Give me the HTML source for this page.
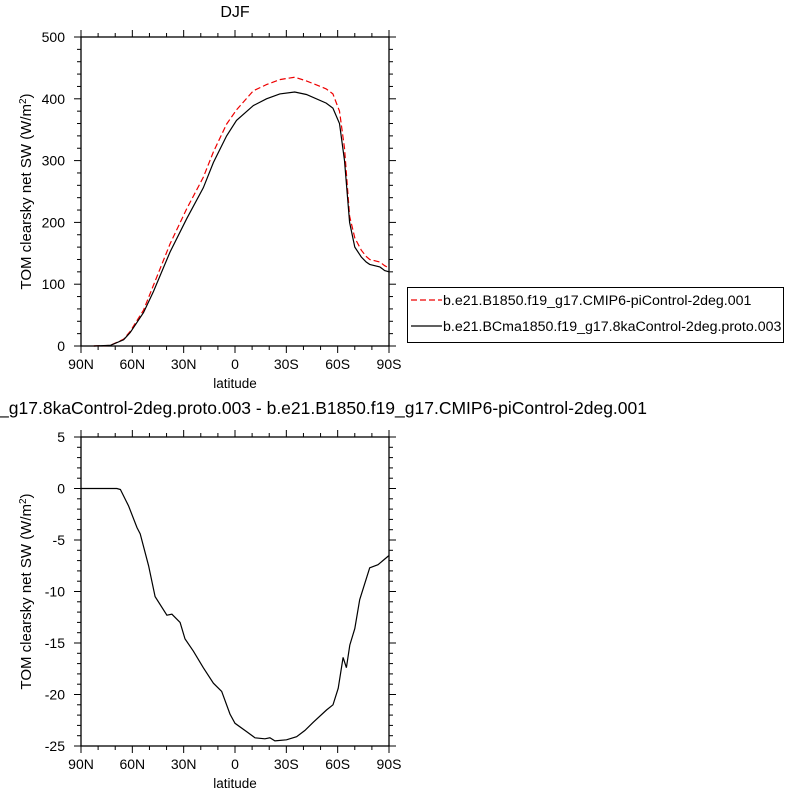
<!DOCTYPE html>
<html><head><meta charset="utf-8"><style>
body{margin:0;background:#fff}
svg{display:block;font-family:"Liberation Sans",sans-serif}
</style></head><body>
<svg id="c" width="800" height="800" viewBox="0 0 800 800">
<text x="235" y="17" font-size="16" text-anchor="middle">DJF</text>
<text x="647" y="414" font-size="17.5" text-anchor="end">e21.BCma1850.f19_g17.8kaControl-2deg.proto.003 - b.e21.B1850.f19_g17.CMIP6-piControl-2deg.001</text>
<g id="p1"></g>
<g id="p2"></g>
<g>
<rect x="407.5" y="287.5" width="376" height="55" fill="#fff" stroke="#000"/>
<g>
<line x1="411" y1="300" x2="442" y2="300" stroke="#e00" stroke-width="1.2" stroke-dasharray="6,3"/>
<text x="443" y="305" font-size="14.2">b.e21.B1850.f19_g17.CMIP6-piControl-2deg.001</text></g>
<g>
<line x1="411" y1="326" x2="442" y2="326" stroke="#000" stroke-width="1.2"/>
<text x="443" y="331" font-size="14.2">b.e21.BCma1850.f19_g17.8kaControl-2deg.proto.003</text></g>
</g>
</svg>
<script>
const lats = [82.6,72.9,65.1,61.2,53.5,47.7,38,28.2,18.5,12.6,4.9,-0.9,-10.7,-18.4,-26.2,-34.9,-41.7,-53.3,-57.2,-61.1,-64,-67,-70,-73.8,-76.7,-78.7,-84.6,-87.5,-90];
const seriesCtl = [0,1,10,22,54,88,152,206,256,297,340,365,389,400,408,411,407,393,385,360,300,200,160,144,136,132,128,122,120];
const seriesPi = [0,1,11,24,58,98,165,222,273,314,359,382,413,423,431,435,429,416,408,380,320,210,175,155,145,140,136,130,126];
const diffLats = [90,69,67,62.2,57.3,55.4,50.5,46.7,39.8,36.9,32.1,29.2,24.3,18.5,12.6,7.8,2.9,0,-6.8,-11.7,-17.5,-20.4,-23.3,-30.1,-36,-40.8,-45.7,-53.5,-57.3,-60.3,-63.2,-65.1,-67.1,-70,-72.9,-78.7,-83.6,-90];
const diffVals = [0,0,-0.1,-1.7,-3.8,-4.4,-7.5,-10.5,-12.3,-12.2,-13.0,-14.6,-15.8,-17.4,-18.9,-19.7,-21.9,-22.8,-23.6,-24.2,-24.3,-24.2,-24.5,-24.4,-24.1,-23.5,-22.7,-21.5,-21.0,-19.4,-16.4,-17.4,-15.2,-13.6,-10.8,-7.7,-7.4,-6.5];
const xTickVals = [90,60,30,0,-30,-60,-90];
const xTickLabels = ["90N","60N","30N","0","30S","60S","90S"];
const yTicks1 = [0,100,200,300,400,500];
const yTicks2 = [5,0,-5,-10,-15,-20,-25];

const NS="http://www.w3.org/2000/svg";
function mk(parent,tag,attrs){const e=document.createElementNS(NS,tag);for(const k in attrs)e.setAttribute(k,attrs[k]);parent.appendChild(e);return e;}
const L=81,R=389;
const xs=lat=>L+(90-lat)/180*(R-L);

function panel(g,top,bot,ymin,ymax,yTicks,minorStep){
  const ys=v=>bot-(v-ymin)/(ymax-ymin)*(bot-top);
  const frame=mk(g,'rect',{x:L,y:top,width:R-L,height:bot-top,fill:'none',stroke:'#000','stroke-width':1.3});
  
  
  for(let lat=90;lat>=-90;lat-=10){
    const x=xs(lat),maj=lat%30===0,len=maj?7:4;
    mk(g,'line',{x1:x,y1:bot,x2:x,y2:bot+len,stroke:'#000','stroke-width':1});
    mk(g,'line',{x1:x,y1:top,x2:x,y2:top-len,stroke:'#000','stroke-width':1});
  }
  xTickVals.forEach((v,i)=>{
    const t=mk(g,'text',{x:xs(v),y:bot+23,'font-size':14,'text-anchor':'middle'});
    t.textContent=xTickLabels[i];
    
    
  });
  for(let v=ymin;v<=ymax+1e-9;v+=minorStep){
    const y=ys(v),maj=yTicks.some(t=>Math.abs(t-v)<1e-6),len=maj?7:4;
    mk(g,'line',{x1:L,y1:y,x2:L-len,y2:y,stroke:'#000','stroke-width':1});
    mk(g,'line',{x1:R,y1:y,x2:R+len,y2:y,stroke:'#000','stroke-width':1});
  }
  yTicks.forEach(v=>{
    const t=mk(g,'text',{x:L-16,y:ys(v)+5,'font-size':14,'text-anchor':'end'});
    t.textContent=String(v);
    
    
  });
  const xl=mk(g,'text',{x:(L+R)/2,y:bot+42,'font-size':13.5,'text-anchor':'middle'});
  xl.textContent='latitude';
  
  
  const cy=(top+bot)/2;
  const yl=mk(g,'text',{x:31,y:cy,'font-size':15,'text-anchor':'middle',transform:`rotate(-90 31 ${cy})`});
  yl.innerHTML='TOM clearsky net SW (W/m<tspan dy="-5" font-size="10">2</tspan><tspan dy="5">)</tspan>';
  
  
  return ys;
}
function line(g,xv,yv,ys,color,dash,name){
  const d=xv.map((v,i)=>(i?'L':'M')+xs(v).toFixed(1)+','+ys(yv[i]).toFixed(1)).join('');
  const p=mk(g,'path',{d:d,fill:'none',stroke:color,'stroke-width':1.2});
  if(dash)p.setAttribute('stroke-dasharray',dash);
  
  
}
const g1=document.getElementById('p1'),g2=document.getElementById('p2');
const ys1=panel(g1,37,346,0,500,yTicks1,20);
line(g1,lats,seriesPi,ys1,'#e00','6,3','line-piControl');
line(g1,lats,seriesCtl,ys1,'#000',null,'line-8kaControl');
const ys2=panel(g2,437,746,-25,5,yTicks2,1);
line(g2,diffLats,diffVals,ys2,'#000',null,'line-difference');
</script>
</body></html>
